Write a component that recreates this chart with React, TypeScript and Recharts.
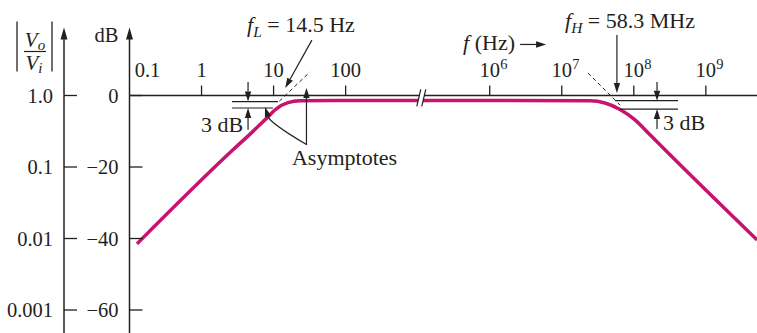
import React from "react";
import { LineChart, Line, XAxis, YAxis, ReferenceLine, ReferenceDot } from "recharts";

// Amplifier gain vs frequency (Hz, dB)
const FREQ_HZ = [0.127, 2.73, 4.71, 7.6, 10.8, 15.8, 23.3, 100, 1e6, 24.7e6, 39.8e6, 64.3e6, 104e6, 168e6, 271e6, 5.13e9];
const GAIN_DB = [-41.5, -15.2, -10.8, -6.8, -3.8, -2.0, -1.5, -1.4, -1.4, -1.5, -2.1, -3.9, -6.8, -11.0, -15.2, -40.4];

const FREQ_TICKS_HZ = [0.1, 1, 10, 100, 1e6, 1e7, 1e8, 1e9];
const DB_TICKS = [0, -20, -40, -60];
const RATIO_TICK_LABELS = ["1.0", "0.1", "0.01", "0.001"];

const F_LOW_HZ = 14.5;
const F_HIGH_MHZ = 58.3;

const INK = "#231f20";
const CURVE = "#c8126f";
const FONT = '"Liberation Serif", "Times New Roman", serif';
const TICK_SIZE = 20.5;
const NOTE_SIZE = 22;

// the decades between 10^3 and 10^5 are cut out of the frequency axis ("//")
const CUT_ABOVE_HZ = 1e4;
const CUT_DECADES = 2;
const toAxis = (hz: number) => {
  const lg = Math.log10(hz);
  return hz > CUT_ABOVE_HZ ? lg - CUT_DECADES : lg;
};
const BREAK_AT = 3.05;

const curve = FREQ_HZ.map((hz, i) => ({ u: toAxis(hz), db: GAIN_DB[i] }));

const txt = { fontFamily: FONT, fill: INK } as const;

function FreqTick(props: any) {
  const { x, y, payload } = props;
  const i = FREQ_TICKS_HZ.findIndex((f) => Math.abs(toAxis(f) - payload.value) < 1e-6);
  const hz = FREQ_TICKS_HZ[i];
  const base = y - 18.5;
  const mark = i > 0 ? <line x1={x} y1={y} x2={x} y2={y - 10} stroke={INK} strokeWidth={1.3} /> : null;
  if (hz < 1000) {
    return (
      <g>
        {mark}
        <text x={x + (i === 0 ? 18 : 0)} y={base} textAnchor="middle" fontSize={TICK_SIZE} {...txt}>
          {String(hz)}
        </text>
      </g>
    );
  }
  return (
    <g>
      {mark}
      <text x={x} y={base} textAnchor="middle" fontSize={TICK_SIZE} {...txt}>10</text>
      <text x={x + 10.5} y={base - 8} fontSize={14.5} {...txt}>{Math.round(Math.log10(hz))}</text>
    </g>
  );
}

const makeLevelTick = (labelFor: (v: number) => string) => (props: any) => {
  const { x, y, payload } = props;
  return (
    <g>
      <line x1={x} y1={y} x2={x + 13} y2={y} stroke={INK} strokeWidth={1.3} />
      <text x={x - 11} y={y} dy="0.35em" textAnchor="end" fontSize={TICK_SIZE} {...txt}>
        {labelFor(payload.value)}
      </text>
    </g>
  );
};

const dbLabel = (v: number) => (v === 0 ? "0" : `\u2212${Math.abs(v)}`);
const ratioLabel = (v: number) => RATIO_TICK_LABELS[DB_TICKS.indexOf(v)];

// axis line continued above the plot, with arrow head and caption
const axisHead = (caption: (ax: number, tip: number) => React.ReactNode) => (props: any) => {
  const { x, y, width } = props.viewBox;
  const ax = x + width;
  const tip = y - 68;
  return (
    <g>
      <line x1={ax} y1={y} x2={ax} y2={tip + 8} stroke={INK} strokeWidth={1.5} />
      <path d={`M${ax},${tip} L${ax - 3.5},${tip + 12} L${ax + 3.5},${tip + 12} Z`} fill={INK} />
      {caption(ax, tip)}
    </g>
  );
};

const dbCaption = (ax: number, tip: number) => (
  <text x={ax - 11} y={tip + 14} textAnchor="end" fontSize={TICK_SIZE} {...txt}>dB</text>
);

const ratioCaption = (ax: number, tip: number) => (
  <g>
    <line x1={ax - 47} y1={tip - 6} x2={ax - 47} y2={tip + 44} stroke={INK} strokeWidth={1.3} />
    <line x1={ax - 12} y1={tip - 6} x2={ax - 12} y2={tip + 44} stroke={INK} strokeWidth={1.3} />
    <text x={ax - 29} y={tip + 19} textAnchor="middle" fontSize={21} {...txt}>
      <tspan fontStyle="italic">V</tspan>
      <tspan fontStyle="italic" fontSize={15} dy={3}>o</tspan>
    </text>
    <line x1={ax - 40} y1={tip + 24} x2={ax - 18} y2={tip + 24} stroke={INK} strokeWidth={1.2} />
    <text x={ax - 30} y={tip + 42} textAnchor="middle" fontSize={21} {...txt}>
      <tspan fontStyle="italic">V</tspan>
      <tspan fontStyle="italic" fontSize={15} dy={3}>i</tspan>
    </text>
  </g>
);

// straight or bent arrow between the two segment ends, head at the second one
const arrow = (bend?: [number, number]) => (p: any) => {
  const { x1, y1, x2, y2 } = p;
  const cx = bend ? (x1 + x2) / 2 + bend[0] : x1;
  const cy = bend ? (y1 + y2) / 2 + bend[1] : y1;
  const dx = x2 - cx;
  const dy = y2 - cy;
  const len = Math.hypot(dx, dy) || 1;
  const ux = dx / len;
  const uy = dy / len;
  const hl = 10;
  const hw = 3.2;
  const bx = x2 - ux * hl;
  const by = y2 - uy * hl;
  const d = bend ? `M${x1},${y1} Q${cx},${cy} ${bx},${by}` : `M${x1},${y1} L${bx},${by}`;
  return (
    <g>
      <path d={d} fill="none" stroke={INK} strokeWidth={1.2} />
      <path d={`M${x2},${y2} L${bx - uy * hw},${by + ux * hw} L${bx + uy * hw},${by - ux * hw} Z`} fill={INK} />
    </g>
  );
};

const label = (content: React.ReactNode, anchor: "start" | "end" | "middle" = "start") => (p: any) => (
  <text x={p.cx} y={p.cy} textAnchor={anchor} fontSize={NOTE_SIZE} {...txt}>
    {content}
  </text>
);

const cornerLabel = (sub: string, rest: string) => (
  <>
    <tspan fontStyle="italic">f</tspan>
    <tspan fontStyle="italic" fontSize={15.5} dy={5}>{sub}</tspan>
    <tspan dy={-5}>{rest}</tspan>
  </>
);

const freqAxisName = (p: any) => (
  <g>
    <text x={p.cx} y={p.cy} fontSize={NOTE_SIZE} {...txt}>
      <tspan fontStyle="italic">f</tspan>
      <tspan> (Hz)</tspan>
    </text>
    {arrow()({ x1: p.cx + 57, y1: p.cy - 6, x2: p.cx + 83, y2: p.cy - 6 })}
  </g>
);

const breakMark = (p: any) => {
  const { cx, cy } = p;
  return (
    <g>
      <path
        d={`M${cx - 4.5},${cy + 8.5} L${cx - 0.5},${cy - 8.5} L${cx + 4.5},${cy - 8.5} L${cx + 0.5},${cy + 8.5} Z`}
        fill="#fff"
      />
      <line x1={cx - 4.5} y1={cy + 8.5} x2={cx - 0.5} y2={cy - 8.5} stroke={INK} strokeWidth={1.2} />
      <line x1={cx + 0.5} y1={cy + 8.5} x2={cx + 4.5} y2={cy - 8.5} stroke={INK} strokeWidth={1.2} />
    </g>
  );
};

const seg = (hzA: number, dbA: number, hzB: number, dbB: number) =>
  [{ x: toAxis(hzA), y: dbA }, { x: toAxis(hzB), y: dbB }];

export default function App() {
  return (
    <div style={{ width: 757, height: 333, background: "#fff" }}>
      <style>{`body{margin:0;background:#fff}`}</style>
      <LineChart width={757} height={333} data={curve} margin={{ top: 35.5, right: 0, bottom: 0, left: 0 }}>
        <XAxis
          dataKey="u"
          type="number"
          orientation="top"
          domain={[-1, 7.71]}
          allowDataOverflow
          ticks={FREQ_TICKS_HZ.map(toAxis)}
          interval={0}
          height={60}
          axisLine={{ stroke: INK, strokeWidth: 1.5 }}
          tickLine={false}
          tickSize={0}
          tickMargin={0}
          tick={<FreqTick />}
        />
        <YAxis
          type="number"
          domain={[-66.43, 0]}
          allowDataOverflow
          ticks={DB_TICKS}
          interval={0}
          width={65.5}
          axisLine={{ stroke: INK, strokeWidth: 1.5 }}
          tickLine={false}
          tickSize={0}
          tickMargin={0}
          tick={makeLevelTick(dbLabel)}
          label={{ content: axisHead(dbCaption) }}
        />
        <YAxis
          yAxisId="ratio"
          type="number"
          domain={[-66.43, 0]}
          allowDataOverflow
          ticks={DB_TICKS}
          interval={0}
          width={64}
          axisLine={{ stroke: INK, strokeWidth: 1.5 }}
          tickLine={false}
          tickSize={0}
          tickMargin={0}
          tick={makeLevelTick(ratioLabel)}
          label={{ content: axisHead(ratioCaption) }}
        />

        <Line dataKey="db" type="monotone" stroke={CURVE} strokeWidth={3.5} dot={false} isAnimationActive={false} />

        {/* asymptote extensions */}
        <ReferenceLine segment={seg(12, -1.6, 32, 6.6)} ifOverflow="visible" stroke={INK} strokeWidth={1} strokeDasharray="4 3" />
        <ReferenceLine segment={seg(23.1e6, 6.3, 64.4e6, -2.7)} ifOverflow="visible" stroke={INK} strokeWidth={1} strokeDasharray="4 3" />

        {/* 3 dB markers, low end */}
        <ReferenceLine segment={seg(2.65, -1.7, 11.5, -1.7)} ifOverflow="visible" stroke={INK} strokeWidth={1.2} />
        <ReferenceLine segment={seg(2.65, -3.5, 9.8, -3.5)} ifOverflow="visible" stroke={INK} strokeWidth={1.2} />
        <ReferenceLine segment={seg(4.42, 3.8, 4.42, -1.7)} ifOverflow="visible" shape={arrow()} />
        <ReferenceLine segment={seg(4.42, -9.6, 4.42, -3.5)} ifOverflow="visible" shape={arrow()} />
        <ReferenceDot x={toAxis(3.77)} y={-10.2} ifOverflow="visible" shape={label("3 dB", "end")} />

        {/* 3 dB markers, high end */}
        <ReferenceLine segment={seg(55e6, -1.45, 411e6, -1.45)} ifOverflow="visible" stroke={INK} strokeWidth={1.2} />
        <ReferenceLine segment={seg(64.4e6, -3.8, 411e6, -3.8)} ifOverflow="visible" stroke={INK} strokeWidth={1.2} />
        <ReferenceLine segment={seg(210e6, 3.8, 210e6, -1.45)} ifOverflow="visible" shape={arrow()} />
        <ReferenceLine segment={seg(210e6, -9.4, 210e6, -3.8)} ifOverflow="visible" shape={arrow()} />
        <ReferenceDot x={toAxis(255e6)} y={-9.7} ifOverflow="visible" shape={label("3 dB")} />

        {/* corner frequencies */}
        <ReferenceDot x={toAxis(4.28)} y={17.8} ifOverflow="visible" shape={label(cornerLabel("L", ` = ${F_LOW_HZ} Hz`))} />
        <ReferenceLine segment={seg(34, 15.5, F_LOW_HZ, 2.1)} ifOverflow="visible" shape={arrow()} />
        <ReferenceDot x={toAxis(11.1e6)} y={18.9} ifOverflow="visible" shape={label(cornerLabel("H", ` = ${F_HIGH_MHZ} MHz`))} />
        <ReferenceLine segment={seg(F_HIGH_MHZ * 1e6, 16.9, F_HIGH_MHZ * 1e6, 0.7)} ifOverflow="visible" shape={arrow()} />
        <ReferenceDot x={toAxis(427e3)} y={12.6} ifOverflow="visible" shape={freqAxisName} />

        {/* asymptote callout */}
        <ReferenceDot x={toAxis(18)} y={-19.4} ifOverflow="visible" shape={label("Asymptotes")} />
        <ReferenceLine segment={seg(28.6, -13.8, 28.6, 2.1)} ifOverflow="visible" shape={arrow()} />
        <ReferenceLine segment={seg(29, -13.8, 7.6, -3.2)} ifOverflow="visible" shape={arrow([-16, -3])} />

        <ReferenceDot x={BREAK_AT} y={-0.65} ifOverflow="visible" shape={breakMark} />
      </LineChart>
    </div>
  );
}
